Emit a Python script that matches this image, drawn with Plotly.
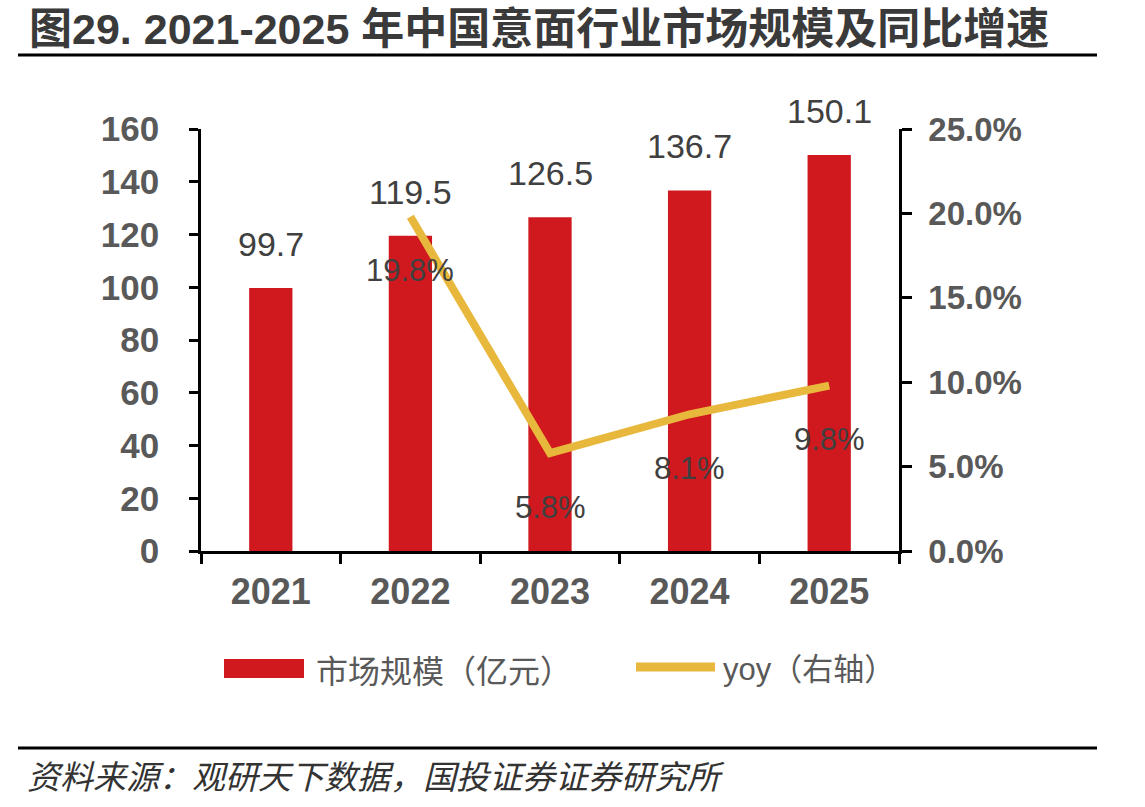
import plotly.graph_objects as go

# ---- data ----
years = ["2021", "2022", "2023", "2024", "2025"]
market_size = [99.7, 119.5, 126.5, 136.7, 150.1]          # 亿元
yoy_years = ["2022", "2023", "2024", "2025"]
yoy_pct = [19.8, 5.8, 8.1, 9.8]                            # %
left_ticks = [0, 20, 40, 60, 80, 100, 120, 140, 160]
right_ticks = [0, 5, 10, 15, 20, 25]

title_text = "图29. 2021-2025 年中国意面行业市场规模及同比增速"
source_text = "资料来源：观研天下数据，国投证券证券研究所"
legend_bar = "市场规模（亿元）"
legend_line = "yoy（右轴）"

RED = "#D0181F"
GOLD = "#E8B83C"
TICK_GRAY = "#595959"
LABEL_GRAY = "#404040"
FONT = "Liberation Sans, Arial, Noto Sans CJK SC, sans-serif"
CJK = "Noto Sans CJK SC, sans-serif"

W, H = 1145, 807
L, R, T, B = 201, 899, 129, 551

fig = go.Figure()
fig.add_trace(go.Bar(
    x=years, y=market_size, marker=dict(color=RED, line=dict(width=0)),
    width=0.31, showlegend=False, hoverinfo="skip"))
fig.add_trace(go.Scatter(
    x=yoy_years, y=[v / 100 for v in yoy_pct], yaxis="y2", mode="lines",
    line=dict(color=GOLD, width=8), showlegend=False, hoverinfo="skip"))

ann = []
for yr, v in zip(years, market_size):
    ann.append(dict(x=years.index(yr), y=v, xref="x", yref="y", text=f"{v:.1f}", showarrow=False,
                    yanchor="middle", yshift=44, font=dict(family=FONT, size=34, color=LABEL_GRAY)))
for yr, v in zip(yoy_years, yoy_pct):
    ann.append(dict(x=years.index(yr), y=v / 100, xref="x", yref="y2", text=f"{v:.1f}%", showarrow=False,
                    yanchor="middle", yshift=-54, font=dict(family=FONT, size=31, color=LABEL_GRAY)))

def px(xp):
    return (xp - L) / (R - L)
def py(yp):
    return (B - yp) / (B - T)

# title
ann.append(dict(x=px(27), y=py(29), xref="paper", yref="paper", xanchor="left", yanchor="middle",
                text=f"<b>{title_text}</b>", showarrow=False,
                font=dict(family=FONT, size=43, color="#3a3a3a")))
# source
ann.append(dict(x=px(25), y=py(775), xref="paper", yref="paper", xanchor="left", yanchor="middle",
                text=source_text, showarrow=False,
                font=dict(family=CJK, size=33, color="#333333", style="italic")))
# legend texts
ann.append(dict(x=px(314), y=py(669), xref="paper", yref="paper", xanchor="left", yanchor="middle",
                text=legend_bar, showarrow=False,
                font=dict(family=CJK, size=32, color=TICK_GRAY)))
ann.append(dict(x=px(721), y=py(669), xref="paper", yref="paper", xanchor="left", yanchor="middle",
                text=legend_line, showarrow=False,
                font=dict(family=FONT, size=31, color=TICK_GRAY)))

shapes = [
    dict(type="line", xref="paper", yref="paper", x0=px(18), x1=px(1097), y0=py(55), y1=py(55),
         line=dict(color="black", width=3)),
    dict(type="line", xref="paper", yref="paper", x0=px(18), x1=px(1097), y0=py(748), y1=py(748),
         line=dict(color="black", width=3)),
    dict(type="rect", xref="paper", yref="paper", x0=px(224), x1=px(304), y0=py(659), y1=py(678),
         fillcolor=RED, line=dict(width=0)),
    dict(type="line", xref="paper", yref="paper", x0=px(636), x1=px(715), y0=py(667), y1=py(667),
         line=dict(color=GOLD, width=9)),
]

axis_common = dict(showline=True, linecolor="black", linewidth=2.5, ticks="outside",
                   tickcolor="black", tickwidth=2.5, showgrid=False, zeroline=False)

fig.update_layout(
    width=W, height=H, autosize=False,
    margin=dict(l=L, r=W - R, t=T, b=H - B),
    paper_bgcolor="white", plot_bgcolor="white",
    font=dict(family=FONT),
    xaxis=dict(type="category", categoryorder="array", categoryarray=years,
               range=[-0.5, len(years) - 0.5], autorange=False,
               tickson="boundaries", ticklen=10, ticklabelstandoff=7,
               tickfont=dict(family=FONT, size=36, color=TICK_GRAY, weight="bold"),
               **axis_common),
    yaxis=dict(range=[0, 160], tickvals=left_ticks, ticklen=9, ticklabelstandoff=23,
               tickfont=dict(family=FONT, size=35, color=TICK_GRAY, weight="bold"),
               **axis_common),
    yaxis2=dict(range=[0, 0.25], tickvals=[v / 100 for v in right_ticks], tickformat=".1%",
                overlaying="y", side="right", ticklen=10, ticklabelstandoff=10,
                tickfont=dict(family=FONT, size=33, color=TICK_GRAY, weight="bold"),
                **axis_common),
    annotations=ann, shapes=shapes,
)

fig.write_html("out.html")
